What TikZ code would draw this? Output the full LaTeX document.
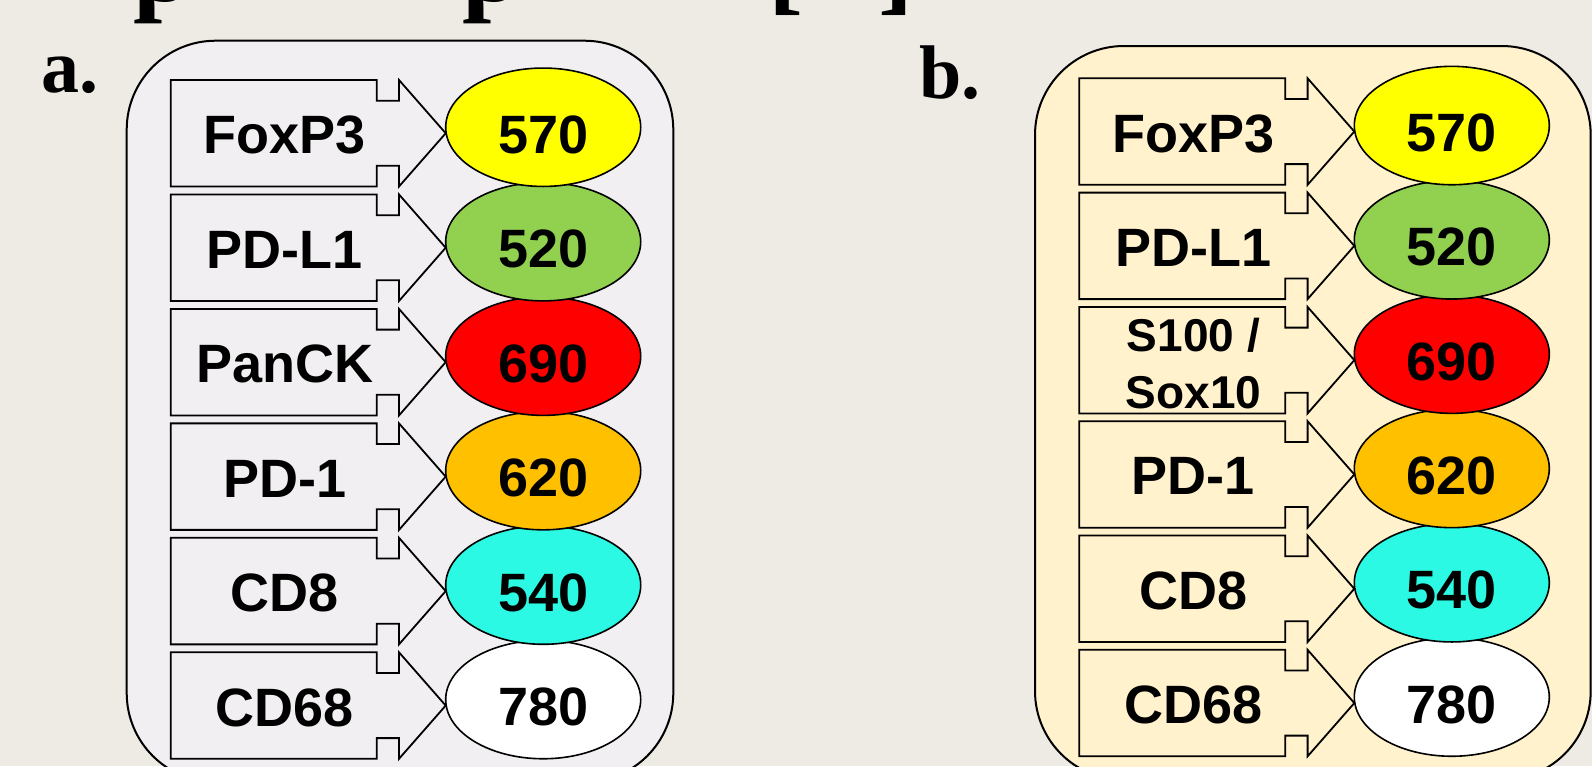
\documentclass[tikz,border=0pt]{standalone}
\usepackage{fontspec}
\setmainfont{Liberation Serif}
\newfontfamily\labelfont{Liberation Sans}
\usetikzlibrary{shapes.geometric}

\definecolor{pagebg}{RGB}{237,235,227}
\definecolor{panelA}{RGB}{242,239,242}
\definecolor{panelB}{RGB}{255,242,204}
\definecolor{dyeYellow}{RGB}{255,255,0}
\definecolor{dyeGreen}{RGB}{146,208,80}
\definecolor{dyeRed}{RGB}{255,0,0}
\definecolor{dyeOrange}{RGB}{255,192,0}
\definecolor{dyeCyan}{RGB}{43,249,227}
\definecolor{dyeWhite}{RGB}{255,255,255}

\tikzset{
  panel/.style={draw=black, line width=2pt, rounded corners=89pt},
  arrowbox/.style={draw=black, line width=1.8pt, line join=miter},
  callarrow/.pic={
    \draw[arrowbox] (0,0) -- (206,0) -- (206,20.7) -- (228.3,20.7) -- (228.3,0)
      -- (275,53.25) -- (228.3,106.5) -- (228.3,85.8) -- (206,85.8) -- (206,106.5)
      -- (0,106.5) -- cycle;
  },
  marker/.style={font=\labelfont\bfseries\fontsize{54}{60}\selectfont,
    anchor=base, inner sep=0pt},
  dye/.style={ellipse, draw=black, line width=1.6pt, minimum width=195pt,
    minimum height=118.4pt, inner sep=0pt, text height=52pt, text depth=0pt,
    font=\labelfont\bfseries\fontsize{54}{60}\selectfont},
  panelmark/.style={font=\bfseries\fontsize{76}{80}\selectfont,
    anchor=base west, inner sep=0pt},
  titlefrag/.style={font=\bfseries\fontsize{105}{110}\selectfont,
    anchor=base west, inner sep=0pt},
}

\begin{document}
\begin{tikzpicture}[x=1pt,y=-1pt]
\clip (0,0) rectangle (1592,766);
\fill[pagebg] (0,0) rectangle (1592,766);

% lower edge of the heading line above the panels
\node[titlefrag] (t1) at (133.7,1) {p};
\node[titlefrag] (t2) at (462.7,1) {p};
\node[titlefrag] (t3) at (768,1) {[};
\node[titlefrag] (t4) at (878,1) {]};

% panel letters
\node[panelmark] (lab-a) at (41,92.7) {a.};
\node[panelmark] (lab-b) at (919,98.3) {b.};

% panel frames
\draw[panel, fill=panelA] (126.7,40.7) rectangle (673.3,782);
\draw[panel, fill=panelB] (1035,46) rectangle (1590.7,780);

% panel a: fluorophores (lower ones first so upper ellipses overlap them)
\foreach \i/\num/\col in {5/780/dyeWhite, 4/540/dyeCyan, 3/620/dyeOrange,
                          2/690/dyeRed, 1/520/dyeGreen, 0/570/dyeYellow}{
  \node[dye, fill=\col] (a-\num) at (543.2,{80+\i*114.46+47.25}) {\num};
}
% panel a: markers
\foreach \i/\mk in {0/FoxP3, 1/PD-L1, 2/PanCK, 3/PD-1, 4/CD8, 5/CD68}{
  \pic at (170.7,{80+\i*114.46}) {callarrow};
  \node[marker] (a-\mk) at (284.85,{80+\i*114.46+73.75}) {\mk};
}

% panel b: fluorophores
\foreach \i/\num/\col in {5/780/dyeWhite, 4/540/dyeCyan, 3/620/dyeOrange,
                          2/690/dyeRed, 1/520/dyeGreen, 0/570/dyeYellow}{
  \node[dye, fill=\col] (b-\num) at (1451.8,{78.3+\i*114.3+47.25}) {\num};
}
% panel b: markers
\foreach \i/\mk in {0/FoxP3, 1/PD-L1, 3/PD-1, 4/CD8, 5/CD68}{
  \pic at (1079.3,{78.3+\i*114.3}) {callarrow};
  \node[marker] (b-\mk) at (1193.45,{78.3+\i*114.3+73.75}) {\mk};
}
\pic at (1079.3,{78.3+2*114.3}) {callarrow};
\node[marker, font=\labelfont\bfseries\fontsize{46}{56.7}\selectfont,
      align=center, anchor=center] (b-S100) at (1193.45,363.3) {S100 /\\Sox10};
\end{tikzpicture}
\end{document}
